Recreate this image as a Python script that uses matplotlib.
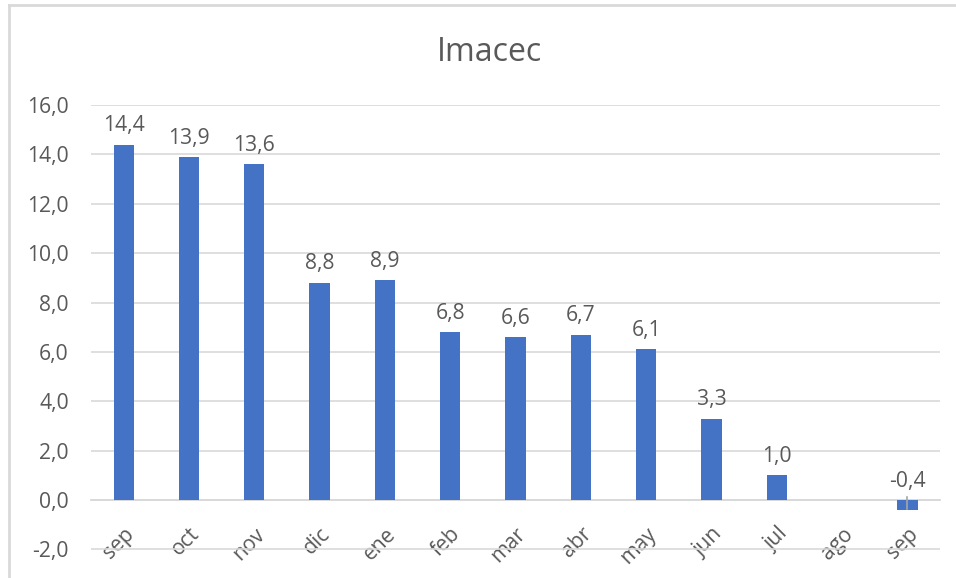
import numpy as np
import matplotlib.pyplot as plt
from matplotlib.lines import Line2D

# Imacec, variación anual (%)
MONTHS = ['sep', 'oct', 'nov', 'dic', 'ene', 'feb', 'mar', 'abr', 'may',
          'jun', 'jul', 'ago', 'sep']
VALUES = [14.4, 13.9, 13.6, 8.8, 8.9, 6.8, 6.6, 6.7, 6.1, 3.3, 1.0,
          np.nan, -0.4]
Y_TICKS = [-2, 0, 2, 4, 6, 8, 10, 12, 14, 16]

BAR_COLOR = '#4472C4'
TEXT_COLOR = '#595959'
GRID_COLOR = '#D9D9D9'
FS = 15.2


def fmt(v):
    return f'{v:.1f}'.replace('.', ',')


def main():
    plt.rcParams['font.family'] = ['Open Sans', 'DejaVu Sans']

    fig = plt.figure(figsize=(9.56, 5.78), dpi=100)
    ax = fig.add_axes([0.0952, 0.0460, 0.8881, 0.7723])

    x = np.arange(len(MONTHS))
    ax.bar(x, VALUES, width=0.31, color=BAR_COLOR, zorder=3)

    for i, v in enumerate(VALUES):
        if np.isnan(v):
            continue
        if v >= 0:
            ax.annotate(fmt(v), xy=(i, v), xytext=(0, 6),
                        textcoords='offset points', ha='center',
                        va='bottom', fontsize=FS, color=TEXT_COLOR)
        else:
            # negative bar: label sits above the axis with a leader line
            ax.annotate(fmt(v), xy=(i, 0), xytext=(0, 6),
                        textcoords='offset points', ha='center',
                        va='bottom', fontsize=FS, color=TEXT_COLOR)
            ax.add_line(Line2D([i, i], [v + 0.05, 0.13], color='#A6A6A6',
                               lw=1.2, zorder=4))

    ax.set_xlim(-0.5, len(MONTHS) - 0.5)
    ax.set_ylim(-2.08, 16)
    ax.set_yticks(Y_TICKS)
    ax.set_yticklabels([fmt(t) for t in Y_TICKS])
    ax.tick_params(axis='y', length=0, pad=16, labelsize=FS,
                   labelcolor=TEXT_COLOR)

    ax.spines['bottom'].set_position(('data', 0))
    ax.spines['bottom'].set_color(GRID_COLOR)
    ax.spines['bottom'].set_linewidth(1.3)
    for side in ['top', 'right', 'left']:
        ax.spines[side].set_visible(False)

    ax.set_xticks(x)
    ax.set_xticklabels(MONTHS, rotation=45, ha='right',
                       rotation_mode='anchor')
    ax.tick_params(axis='x', length=0, pad=17, labelsize=FS,
                   labelcolor=TEXT_COLOR)

    ax.yaxis.grid(True, color=GRID_COLOR, linewidth=1.2)
    ax.set_axisbelow(True)

    fig.text(0.512, 0.8945, 'Imacec', ha='center', va='baseline',
             fontsize=23, color=TEXT_COLOR)

    # chart area frame (top and left edges)
    fig.add_artist(Line2D([0.0095, 1.0], [0.9905, 0.9905],
                          transform=fig.transFigure, color=GRID_COLOR, lw=2))
    fig.add_artist(Line2D([0.0095, 0.0095], [0.0, 0.9905],
                          transform=fig.transFigure, color=GRID_COLOR, lw=2))

    fig.savefig('out.png', dpi=100)
    plt.close(fig)


if __name__ == '__main__':
    main()
